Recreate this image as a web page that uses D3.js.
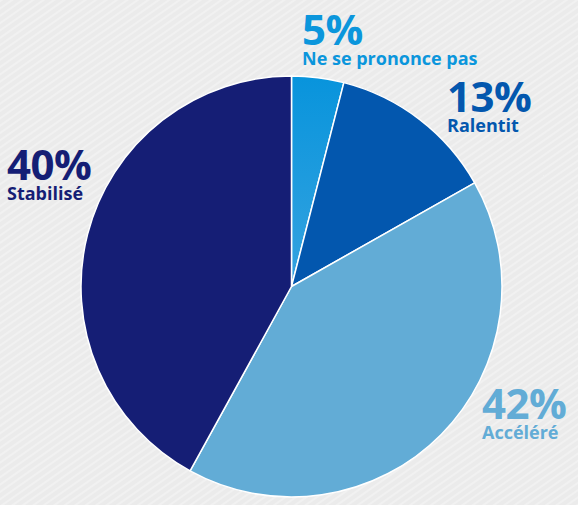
<!DOCTYPE html>
<html><head><meta charset="utf-8">
<script src="https://cdn.jsdelivr.net/npm/d3@7"></script>
<style>
html,body{margin:0;padding:0;background:#ececec;}
svg{display:block;font-family:"Open Sans",sans-serif;}
</style></head><body>
<svg id="c" width="578" height="505"></svg>
<script>
const categories = ["Ne se prononce pas", "Ralentit", "Accéléré", "Stabilisé"];
const percentLabels = ["5%", "13%", "42%", "40%"];
const shares = [4.0, 12.8, 41.2, 42.0];
const colors = ["#0b96dc", "#0357ae", "#62acd6", "#151e75"];
const labelPos = [[302, 45], [447, 112], [482, 419], [7, 180]];

const svg = d3.select("#c");
const defs = svg.append("defs");
const pat = defs.append("pattern").attr("id","bg").attr("patternUnits","userSpaceOnUse")
  .attr("width",6).attr("height",6).attr("patternTransform","rotate(-35)");
pat.append("rect").attr("width",6).attr("height",6).attr("fill","#ebebeb");
pat.append("rect").attr("width",6).attr("height",2).attr("fill","#f1f1f1");
const grad = defs.append("linearGradient").attr("id","g0").attr("x1",0).attr("y1",0).attr("x2",0).attr("y2",1);
grad.append("stop").attr("offset","0%").attr("stop-color","#0894dc");
grad.append("stop").attr("offset","100%").attr("stop-color","#35a3e0");

svg.append("rect").attr("width",578).attr("height",505).attr("fill","url(#bg)");

const cx = 291.5, cy = 286.5, r = 210.5;
const pie = d3.pie().sort(null).value(d => d);
const arc = d3.arc().innerRadius(0).outerRadius(r);
const g = svg.append("g").attr("transform", `translate(${cx},${cy})`);
g.selectAll("path").data(pie(shares)).join("path")
  .attr("d", arc)
  .attr("fill", (d,i) => i === 0 ? "url(#g0)" : colors[i])
  .attr("stroke", "#ffffff").attr("stroke-width", 1.5).attr("stroke-linejoin","round");

const lg = svg.append("g");
categories.forEach((c, i) => {
  const [x, y] = labelPos[i];
  const t = lg.append("text").attr("x", x).attr("y", y).attr("fill", colors[i]).attr("font-weight", 700);
  t.append("tspan").attr("x", x).attr("y", y).attr("font-size", 42).attr("letter-spacing", -0.5).text(percentLabels[i]);
  t.append("tspan").attr("x", x).attr("y", y + 20).attr("font-size", 18).text(c);
});
</script>
</body></html>
